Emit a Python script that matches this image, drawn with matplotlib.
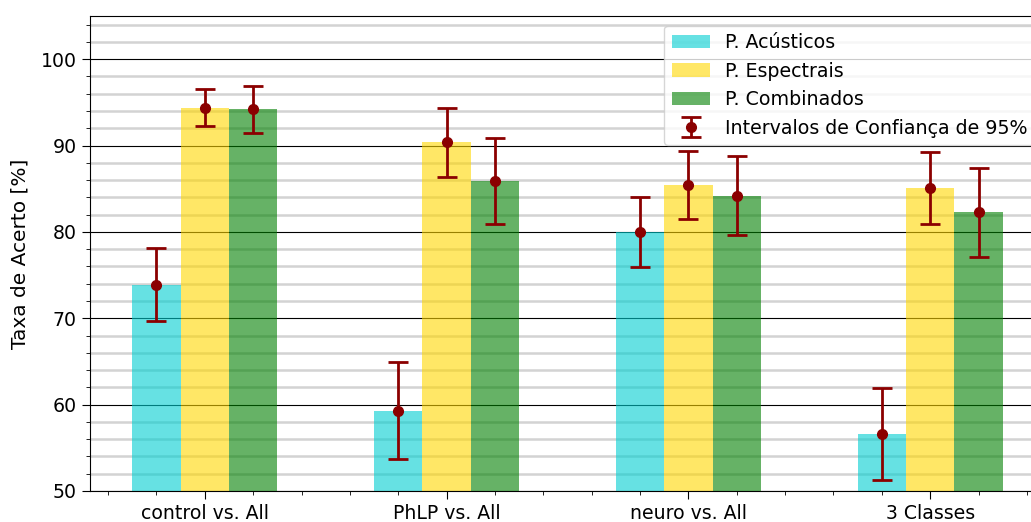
import numpy as np
import matplotlib
matplotlib.use("Agg")
import matplotlib.pyplot as plt
from matplotlib.ticker import MultipleLocator

groups = ["control vs. All", "PhLP vs. All", "neuro vs. All", "3 Classes"]
series = ["P. Acústicos", "P. Espectrais", "P. Combinados"]
acusticos = [73.9, 59.3, 80.0, 56.6]
espectrais = [94.4, 90.4, 85.4, 85.1]
combinados = [94.2, 85.9, 84.2, 82.3]
err_acusticos = [4.2, 5.6, 4.05, 5.35]
err_espectrais = [2.1, 4.0, 3.95, 4.2]
err_combinados = [2.7, 4.95, 4.6, 5.15]
ci_label = "Intervalos de Confiança de 95%"

values = [acusticos, espectrais, combinados]
errors = [err_acusticos, err_espectrais, err_combinados]
colors = ["darkturquoise", "gold", "green"]

W, H, DPI = 1031, 522, 100
fig = plt.figure(figsize=(W / DPI, H / DPI), dpi=DPI)
ax = fig.add_axes([90 / W, (H - 491) / H, (1045 - 90) / W, 475 / H])

x = np.arange(len(groups))
width = 0.2
handles = []
for i, (vals, col, name) in enumerate(zip(values, colors, series)):
    b = ax.bar(x + (i - 1) * width, vals, width, color=col, alpha=0.6,
               label=name, zorder=2)
    handles.append(b)

eb = None
for i, (vals, errs) in enumerate(zip(values, errors)):
    e = ax.errorbar(x + (i - 1) * width, vals, yerr=errs, fmt="o",
                    color="darkred", ecolor="darkred", markersize=7,
                    elinewidth=2, capsize=7, capthick=2, zorder=3,
                    label=ci_label if i == 0 else None)
    if i == 0:
        eb = e
handles.append(eb)

ax.set_ylim(50, 105)
ax.set_xlim(-0.475, 3.475)
ax.yaxis.set_major_locator(MultipleLocator(10))
ax.yaxis.set_minor_locator(MultipleLocator(2))
ax.set_xticks(x)
ax.set_xticklabels(groups)
ax.xaxis.set_minor_locator(MultipleLocator(0.2))
ax.tick_params(axis="both", which="major", labelsize=13.6, length=6)
ax.tick_params(axis="both", which="minor", length=3)

ax.set_axisbelow(True)
ax.grid(axis="y", which="major", color="black", linewidth=0.8)
ax.grid(axis="y", which="minor", color="lightgray", linewidth=1.8)

ax.set_ylabel("Taxa de Acerto [%]", fontsize=14.5, labelpad=8)

ax.legend(handles=handles, labels=series + [ci_label], loc="upper right",
          fontsize=13.7)

fig.savefig("out.png", dpi=DPI)
